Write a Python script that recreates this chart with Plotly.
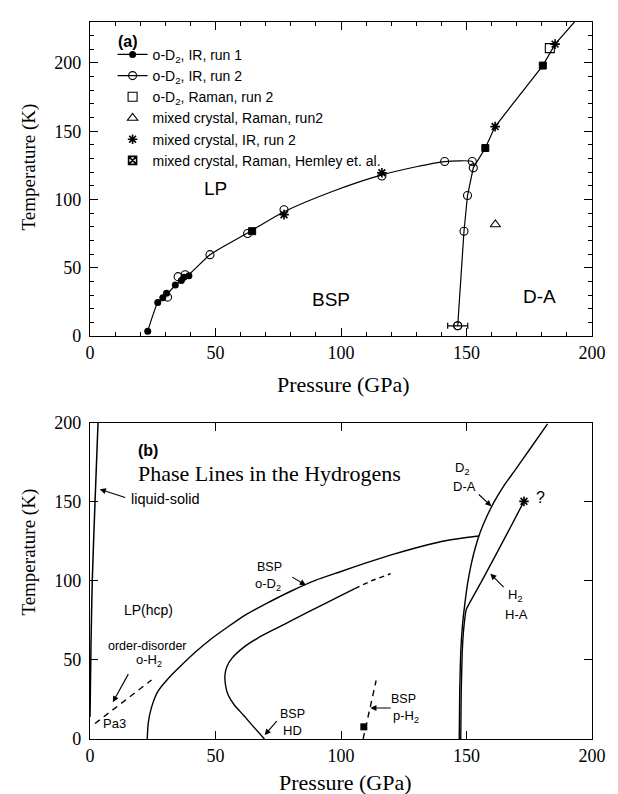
import plotly.graph_objects as go

# ---------------- Panel (a) data ----------------
run1_P = [23.0, 27.0, 29.0, 30.5, 34.0, 36.4, 37.4, 39.4]
run1_T = [3.6, 24.6, 28.0, 31.4, 37.4, 40.6, 43.0, 44.2]

run2_P = [30.9, 35.1, 37.9, 47.8, 62.8, 77.3, 116.3, 141.3, 152.3, 152.7, 150.4, 149.0, 146.5]
run2_T = [28.5, 43.5, 44.9, 59.6, 75.1, 92.5, 117.2, 127.8, 127.8, 123.2, 102.9, 76.8, 7.5]
run2_Perr = 4.0  # error bar on the lowest run-2 point

raman2_P = [183.2]
raman2_T = [210.9]

mixR_P = [161.5]
mixR_T = [81.7]

mixIR_P = [77.3, 116.3, 161.4, 185.3]
mixIR_T = [88.9, 119.6, 153.4, 213.8]

hemley_P = [64.6, 157.5, 180.4]
hemley_T = [76.8, 137.7, 198.1]

# phase boundaries drawn in (a)
bndA1_P = [23.0, 27.0, 29.0, 30.7, 34.0, 36.4, 38.0, 40.0, 47.8, 62.8, 77.3, 96.0, 116.3, 130.0, 141.3, 152.3, 153.0]
bndA1_T = [3.6, 24.6, 28.0, 30.5, 37.4, 40.6, 43.5, 46.0, 59.6, 75.5, 91.0, 105.5, 118.0, 124.0, 127.8, 127.8, 124.5]
bndA2_P = [146.5, 149.0, 150.4, 152.7, 157.5, 161.4, 180.4, 185.3, 193.0]
bndA2_T = [7.5, 76.8, 102.9, 123.2, 137.7, 153.4, 198.1, 213.8, 230.0]

legend_names = [
    "o-D<sub>2</sub>, IR, run 1",
    "o-D<sub>2</sub>, IR, run 2",
    "o-D<sub>2</sub>, Raman, run 2",
    "mixed crystal, Raman, run2",
    "mixed crystal, IR, run 2",
    "mixed crystal, Raman, Hemley et. al.",
]

# ---------------- Panel (b) data ----------------
melt_P = [0.0, 0.4, 0.9, 2.0, 3.2]
melt_T = [14, 60, 100, 150, 200]

oD2_P = [22.8, 23.2, 24.5, 27.0, 31.0, 36.0, 42.0, 48.0, 55.0, 62.0, 70.0, 80.0, 90.0, 100.0, 110.0, 120.0, 130.0, 140.0, 150.0, 155.0]
oD2_T = [0, 10, 20, 30, 38, 46, 55, 63, 71, 78.5, 85.5, 93.5, 100.5, 106, 111.5, 116.5, 121, 125, 127.5, 128.5]

HD_P = [69.5, 65.0, 61.2, 57.5, 55.0, 54.0, 53.8, 54.6, 56.5, 61.2, 67.0, 74.2, 81.0, 87.2, 94.0, 100.3, 105.5]
HD_T = [0, 8, 15, 21.5, 28, 34, 41, 46, 51, 58, 64, 70, 75.5, 80.6, 86, 91, 95.2]
HDdash_P = [105.5, 112.0, 119.8]
HDdash_T = [95.2, 100.0, 104.6]

odH2_P = [2.0, 24.5]
odH2_T = [9.8, 37.3]

pH2_P = [108.8, 114.0]
pH2_T = [0, 37]
pH2pt_P = [109.1]
pH2pt_T = [7.7]

DA_P = [147.1, 147.3, 147.7, 148.4, 149.3, 150.4, 151.8, 153.5, 155.5, 158.0, 161.0, 165.0, 169.3, 175.5, 182.3]
DA_T = [0, 30, 55, 72, 85, 98, 110, 121, 131, 140.5, 150, 160.5, 170, 184, 199.4]

HA_P = [147.7, 147.9, 148.3, 148.9, 149.9, 155.9, 166.7, 172.9]
HA_T = [0, 30, 55, 70, 82, 99.4, 131.5, 150.4]
HAend_P = [172.9]
HAend_T = [150.4]

SERIF = "Liberation Serif, Times New Roman, serif"
SANS = "Liberation Sans, Arial, sans-serif"
BLACK = "black"

fig = go.Figure()

# ---- panel (a) curves
fig.add_trace(go.Scatter(x=bndA1_P, y=bndA1_T, mode="lines", line=dict(color=BLACK, width=1.2, shape="spline", smoothing=0.6),
                         showlegend=False, xaxis="x", yaxis="y"))
fig.add_trace(go.Scatter(x=bndA2_P, y=bndA2_T, mode="lines", line=dict(color=BLACK, width=1.2),
                         showlegend=False, xaxis="x", yaxis="y"))

# ---- panel (a) markers
fig.add_trace(go.Scatter(x=run1_P, y=run1_T, mode="markers", marker=dict(symbol="circle", size=7, color=BLACK),
                         showlegend=False, xaxis="x", yaxis="y"))
fig.add_trace(go.Scatter(x=run2_P, y=run2_T, mode="markers",
                         marker=dict(symbol="circle-open", size=8, color=BLACK, line=dict(width=1.1)),
                         showlegend=False, xaxis="x", yaxis="y"))
fig.add_trace(go.Scatter(x=run2_P[-1:], y=run2_T[-1:], mode="markers",
                         marker=dict(symbol="circle-open", size=8, color=BLACK, line=dict(width=1.1)),
                         error_x=dict(type="data", array=[run2_Perr], color=BLACK, thickness=1.2, width=3),
                         showlegend=False, xaxis="x", yaxis="y"))
fig.add_trace(go.Scatter(x=raman2_P, y=raman2_T, mode="markers",
                         marker=dict(symbol="square-open", size=9, color=BLACK, line=dict(width=1.1)),
                         showlegend=False, xaxis="x", yaxis="y"))
fig.add_trace(go.Scatter(x=mixR_P, y=mixR_T, mode="markers",
                         marker=dict(symbol="triangle-up-open", size=9, color=BLACK, line=dict(width=1.1)),
                         showlegend=False, xaxis="x", yaxis="y"))
fig.add_trace(go.Scatter(x=mixIR_P, y=mixIR_T, mode="markers",
                         marker=dict(symbol="asterisk-open", size=8, color=BLACK, line=dict(width=1.6)),
                         showlegend=False, xaxis="x", yaxis="y"))
fig.add_trace(go.Scatter(x=hemley_P, y=hemley_T, mode="markers",
                         marker=dict(symbol="square", size=7, color=BLACK, line=dict(width=1, color=BLACK)),
                         showlegend=False, xaxis="x", yaxis="y"))

# ---- legend-only entries (no data points)
leg_styles = [
    dict(mode="lines+markers", marker=dict(symbol="circle", size=7, color=BLACK)),
    dict(mode="lines+markers", marker=dict(symbol="circle-open", size=8, color=BLACK, line=dict(width=1.1))),
    dict(mode="markers", marker=dict(symbol="square-open", size=9, color=BLACK, line=dict(width=1.1))),
    dict(mode="markers", marker=dict(symbol="triangle-up-open", size=9, color=BLACK, line=dict(width=1.1))),
    dict(mode="markers", marker=dict(symbol="asterisk-open", size=8, color=BLACK, line=dict(width=1.6))),
    dict(mode="markers", marker=dict(symbol="square-x-open", size=8, color=BLACK, line=dict(width=1.6))),
]
for name, st in zip(legend_names, leg_styles):
    fig.add_trace(go.Scatter(x=[None], y=[None], name=name, line=dict(color=BLACK, width=1.2),
                             xaxis="x", yaxis="y", **st))

# ---- panel (b) curves
def bline(px, py, dash="solid", width=1.4, shape="spline", smoothing=0.5):
    fig.add_trace(go.Scatter(x=px, y=py, mode="lines",
                             line=dict(color=BLACK, width=width, dash=dash, shape=shape, smoothing=smoothing),
                             showlegend=False, xaxis="x2", yaxis="y2", cliponaxis=True))

bline(melt_P, melt_T, width=1.5)
bline(oD2_P, oD2_T)
bline(HD_P, HD_T)
bline(HDdash_P, HDdash_T, dash="5px,4px")
bline(odH2_P, odH2_T, dash="6px,5px", shape="linear")
bline(pH2_P, pH2_T, dash="6px,5px", shape="linear")
bline(DA_P, DA_T)
bline(HA_P, HA_T, smoothing=0.3)
fig.add_trace(go.Scatter(x=pH2pt_P, y=pH2pt_T, mode="markers", marker=dict(symbol="square", size=7, color=BLACK),
                         showlegend=False, xaxis="x2", yaxis="y2"))
fig.add_trace(go.Scatter(x=HAend_P, y=HAend_T, mode="markers",
                         marker=dict(symbol="asterisk-open", size=8, color=BLACK, line=dict(width=1.6)),
                         showlegend=False, xaxis="x2", yaxis="y2"))

# ---------------- annotations ----------------
ann = []

def txt(x, y, s, size=13, xref="x2", yref="y2", font=SANS, xanchor="center", bold=False, angle=0):
    if bold:
        s = "<b>" + s + "</b>"
    ann.append(dict(x=x, y=y, xref=xref, yref=yref, text=s, showarrow=False, xanchor=xanchor, yanchor="middle",
                    textangle=angle, font=dict(family=font, size=size, color=BLACK)))

def arrow(hx, hy, tx, ty):
    ann.append(dict(x=hx, y=hy, ax=tx, ay=ty, xref="x2", yref="y2", axref="x2", ayref="y2", text="",
                    showarrow=True, arrowhead=2, arrowsize=1.1, arrowwidth=1.1, arrowcolor=BLACK, standoff=0,
                    font=dict(size=10)))

# panel (a) labels
txt(50, 108, "LP", size=19, xref="x", yref="y")
txt(96.2, 26.8, "BSP", size=19, xref="x", yref="y")
txt(179, 29.2, "D-A", size=19, xref="x", yref="y")
txt(0.075, 0.9725, "(a)", size=16, xref="paper", yref="paper", bold=True)

# panel (b) labels
txt(0.115, 0.4026, "(b)", size=16, xref="paper", yref="paper", bold=True)
txt(71.7, 168, "Phase Lines in the Hydrogens", size=22, font=SERIF)
txt(15.6, 152, "liquid-solid", size=14.5, xanchor="left")
arrow(3.9, 158, 14.6, 152.5)
txt(23.4, 81.7, "LP(hcp)", size=14)
txt(22.8, 58.8, "order-disorder", size=12.5)
txt(23.4, 49.4, "o-H<sub>2</sub>", size=13)
arrow(9.1, 23.3, 15.6, 42)
txt(9.8, 9.8, "Pa3", size=13)
txt(71.6, 108.8, "BSP", size=12.5)
txt(71.0, 97.7, "o-D<sub>2</sub>", size=13)
arrow(86.0, 97.3, 80.0, 103.0)
txt(80.7, 15.6, "BSP", size=12.5)
txt(80.7, 5.6, "HD", size=13)
arrow(69.6, 2.5, 74.9, 12.3)
txt(125.0, 25.4, "BSP", size=12.5)
txt(125.7, 14.0, "p-H<sub>2</sub>", size=13)
arrow(111.7, 19.6, 120.4, 19.6)
txt(148.4, 171, "D<sub>2</sub>", size=13)
txt(149.1, 159.8, "D-A", size=13)
arrow(159.9, 147.3, 154.3, 155.6)
txt(169.3, 91, "H<sub>2</sub>", size=13)
txt(169.9, 78.5, "H-A", size=13)
arrow(159.5, 104.6, 165.4, 95.2)
txt(179.5, 153, "?", size=16)

# axis titles
txt(0.504, 0.4945, "Pressure (GPa)", size=22, xref="paper", yref="paper", font=SERIF)
txt(0.508, -0.0606, "Pressure (GPa)", size=22, xref="paper", yref="paper", font=SERIF)
txt(-0.121, 0.7975, "Temperature (K)", size=19, xref="paper", yref="paper", font=SERIF, angle=-90)
txt(-0.121, 0.2603, "Temperature (K)", size=19, xref="paper", yref="paper", font=SERIF, angle=-90)

axis_common = dict(showgrid=False, zeroline=False, showline=True, linecolor=BLACK, linewidth=1.4,
                   mirror="ticks", ticks="inside", ticklen=8, tickwidth=1.2, tickcolor=BLACK,
                   tickfont=dict(family=SERIF, size=18, color=BLACK), dtick=50, tick0=0)
minor = dict(ticks="inside", ticklen=4, tickwidth=1, tickcolor=BLACK, dtick=10, showgrid=False)

fig.update_layout(
    width=618, height=794,
    margin=dict(l=90, r=16, t=13, b=55),
    paper_bgcolor="white", plot_bgcolor="white",
    xaxis=dict(domain=[0, 1], range=[0, 200], anchor="y", minor=minor, **axis_common),
    yaxis=dict(domain=[0.562, 1], range=[0, 230], anchor="x", minor=minor, ticklabelstandoff=4, **axis_common),
    xaxis2=dict(domain=[0, 1], range=[0, 200], anchor="y2", **axis_common),
    yaxis2=dict(domain=[0, 0.4408], range=[0, 200], anchor="x2", ticklabelstandoff=4, **axis_common),
    legend=dict(x=0.045, y=0.9766, xanchor="left", yanchor="top", bgcolor="rgba(0,0,0,0)",
                font=dict(family=SANS, size=14, color=BLACK), tracegroupgap=0),
    annotations=ann,
    showlegend=True,
)

fig.write_html("out.html")
